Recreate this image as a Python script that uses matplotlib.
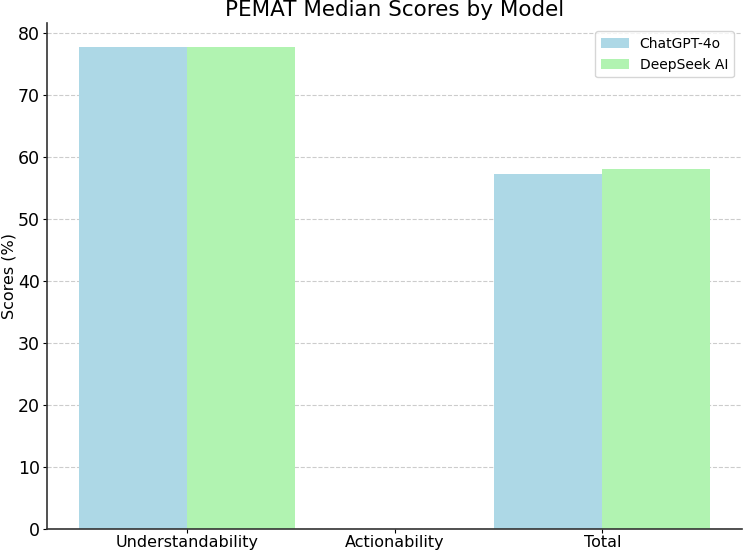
import matplotlib
matplotlib.use("Agg")
import matplotlib.pyplot as plt
import numpy as np

categories = ["Understandability", "Actionability", "Total"]
chatgpt_scores = [77.7, 0.0, 57.3]
deepseek_scores = [77.7, 0.0, 58.0]
series_names = ["ChatGPT-4o", "DeepSeek AI"]
colors = ["#ADD8E6", "#B1F3B1"]

fig = plt.figure(figsize=(7.44, 5.5), dpi=100)
ax = fig.add_axes([47/744, 1 - 529/550, (742 - 47)/744, (529 - 23)/550])

x = np.arange(len(categories))
w = 0.52
ax.bar(x - w/2, chatgpt_scores, w, color=colors[0], label=series_names[0], zorder=2)
ax.bar(x + w/2, deepseek_scores, w, color=colors[1], label=series_names[1], zorder=2)

ax.set_xticks(x)
ax.set_xticklabels(categories, fontsize=11.5)
ax.tick_params(axis='x', length=3, pad=1.5)
ax.tick_params(axis='y', labelsize=12.5, length=3, pad=2)
ax.set_ylabel("Scores (%)", fontsize=11.5, labelpad=1)
ax.set_title("PEMAT Median Scores by Model", fontsize=15.5, pad=5)
ax.yaxis.grid(True, linestyle='--', color='#cccccc', linewidth=0.8, zorder=0)
ax.set_axisbelow(True)
for s in ['top', 'right']:
    ax.spines[s].set_visible(False)
for s in ['left', 'bottom']:
    ax.spines[s].set_color('#333333')
    ax.spines[s].set_linewidth(1.2)
ax.legend(loc='upper right', fontsize=10, borderaxespad=0.6)

fig.savefig("out.png", dpi=100)
